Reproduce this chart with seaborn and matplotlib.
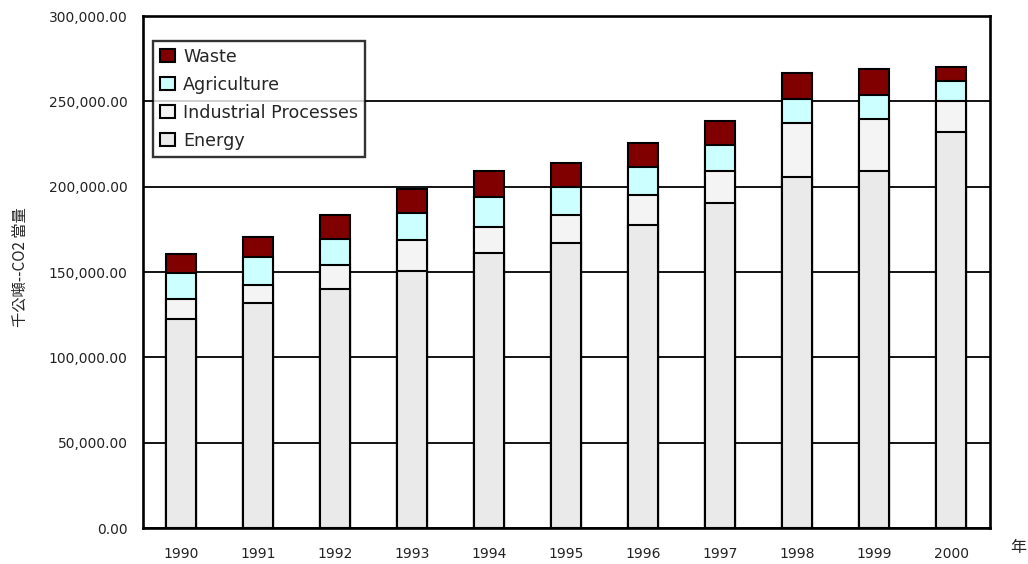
import matplotlib
matplotlib.use("Agg")
import matplotlib.pyplot as plt
from matplotlib.patches import Patch
from matplotlib.ticker import FuncFormatter, MultipleLocator, FixedLocator
import numpy as np
import pandas as pd
import seaborn as sns

# Emissions by sector, thousand tonnes CO2 equivalent
years = ["1990", "1991", "1992", "1993", "1994", "1995",
         "1996", "1997", "1998", "1999", "2000"]
energy = [122600, 132000, 140200, 150800, 161300, 167200,
          177700, 190600, 205800, 209400, 232000]
industrial = [11800, 10600, 14100, 17900, 15200, 16400,
              17600, 18800, 31700, 30400, 18000]
agriculture = [15200, 16400, 15200, 16100, 17600, 16400,
               16400, 14800, 14100, 14100, 12100]
waste = [10800, 11700, 14100, 14000, 15300, 14100,
         14100, 14500, 15200, 15200, 8200]

sectors = ["Energy", "Industrial Processes", "Agriculture", "Waste"]
colors = {"Energy": "#EAEAEA", "Industrial Processes": "#F4F4F4",
          "Agriculture": "#CCFFFF", "Waste": "#800000"}

df = pd.DataFrame({"year": years, "Energy": energy,
                   "Industrial Processes": industrial,
                   "Agriculture": agriculture, "Waste": waste})
# cumulative tops so each sector sits on the ones below it
cum = df[sectors].cumsum(axis=1)
cum["year"] = df["year"]

sns.set_style("white")
plt.rcParams["font.family"] = ["DejaVu Sans", "Noto Sans CJK TC"]

fig = plt.figure(figsize=(10.28, 5.64), dpi=100)
ax = fig.add_axes([0.139, 0.0638, 0.824, 0.9078])

# draw tallest stack first, then overlay the lower ones
for s in reversed(sectors):
    sns.barplot(data=cum, x="year", y=s, color=colors[s], saturation=1,
                width=0.39, edgecolor="black", linewidth=1.5, ax=ax,
                zorder=3)

ax.set_ylim(0, 300000)
ax.set_xlim(-0.5, len(years) - 0.5)
ax.yaxis.set_major_locator(MultipleLocator(50000))
ax.yaxis.set_major_formatter(FuncFormatter(lambda v, p: f"{v:,.2f}"))
ax.grid(axis="y", color="black", linewidth=1.3, zorder=0)
ax.set_axisbelow(True)

for sp in ax.spines.values():
    sp.set_visible(True)
    sp.set_color("black")
    sp.set_linewidth(1.9)

ax.tick_params(axis="y", length=0, labelsize=10, pad=11, colors="#222222")
ax.tick_params(axis="x", length=0, labelsize=10, pad=14, colors="#222222")
ax.xaxis.set_minor_locator(FixedLocator(np.arange(0.5, len(years) - 1, 1)))
ax.tick_params(axis="x", which="minor", direction="in", length=4,
               width=1.3, color="black")

ax.set_xlabel("")
ax.set_ylabel("千公噸--CO2 當量", fontsize=11,
              family=["Noto Sans CJK TC", "DejaVu Sans"])
ax.yaxis.set_label_coords(-0.135, 0.51)
fig.text(0.990, 0.030, "年", fontsize=11.5, ha="center", va="center",
         family=["Noto Sans CJK TC", "DejaVu Sans"])

handles = [Patch(facecolor=colors[s], edgecolor="black", linewidth=1.5, label=s)
           for s in ["Waste", "Agriculture", "Industrial Processes", "Energy"]]
leg = ax.legend(handles=handles, loc="upper left",
                bbox_to_anchor=(0.0115, 0.952), borderaxespad=0,
                frameon=True, fancybox=False, fontsize=12.6,
                handlelength=0.9, handleheight=0.76, handletextpad=0.45,
                labelspacing=0.58, borderpad=0.4)
leg.get_frame().set_edgecolor("black")
leg.get_frame().set_linewidth(1.7)
leg.set_zorder(5)

fig.savefig("out.png", dpi=100, facecolor="white")
